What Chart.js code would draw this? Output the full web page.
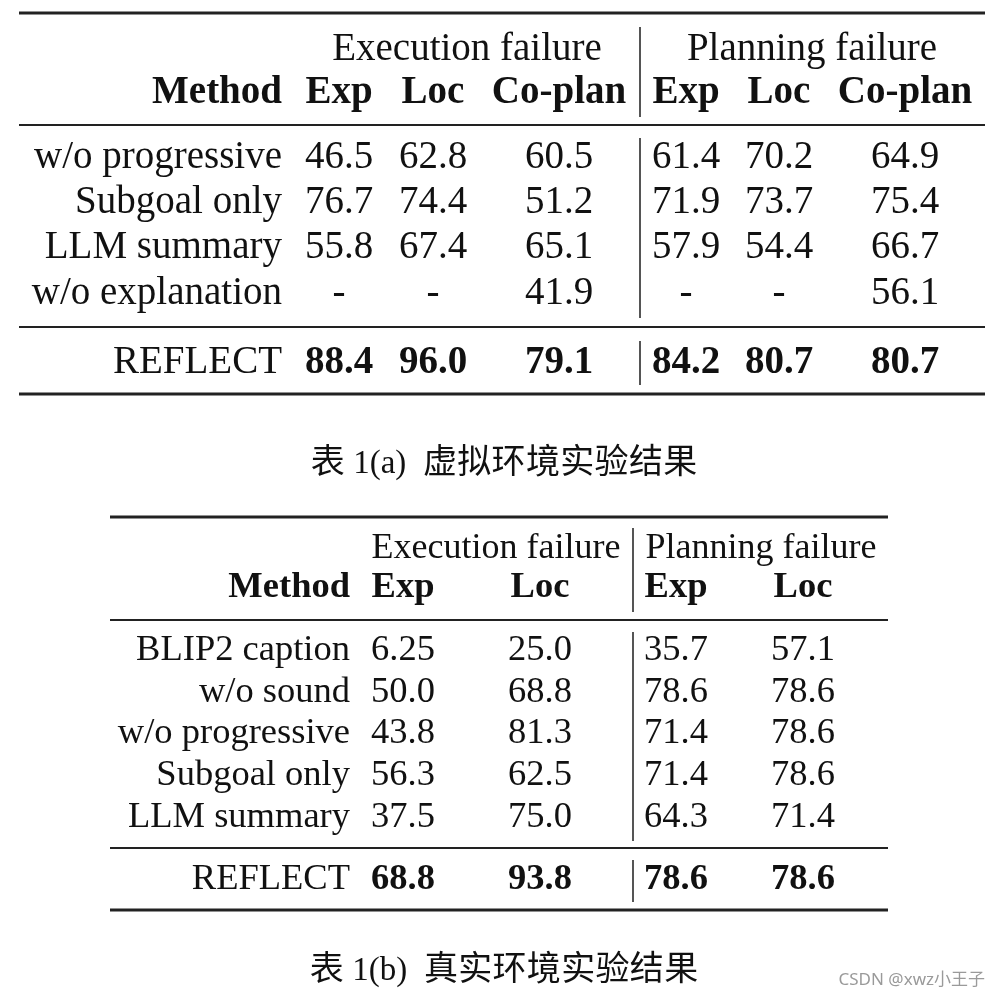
<!DOCTYPE html>
<html>
<head>
<meta charset="utf-8">
<script src="https://cdn.jsdelivr.net/npm/chart.js@4.4.1/dist/chart.umd.min.js"></script>
<style>
  html, body { margin: 0; padding: 0; background: #fff; }
  canvas { display: block; }
</style>
</head>
<body>
<canvas id="tabla" width="1000" height="998"></canvas>
<script>
// datos de la tabla (a) - entorno virtual
var metodosA = ['w/o progressive', 'Subgoal only', 'LLM summary', 'w/o explanation', 'REFLECT']
var gruposA = ['Execution failure', 'Planning failure']
var metricasA = ['Exp', 'Loc', 'Co-plan', 'Exp', 'Loc', 'Co-plan']
var aEjecExp = [46.5, 76.7, 55.8, null, 88.4]
var aEjecLoc = [62.8, 74.4, 67.4, null, 96.0]
var aEjecCoplan = [60.5, 51.2, 65.1, 41.9, 79.1]
var aPlanExp = [61.4, 71.9, 57.9, null, 84.2]
var aPlanLoc = [70.2, 73.7, 54.4, null, 80.7]
var aPlanCoplan = [64.9, 75.4, 66.7, 56.1, 80.7]
var tituloA = '表 1(a)  虚拟环境实验结果'

// datos de la tabla (b) - entorno real
var metodosB = ['BLIP2 caption', 'w/o sound', 'w/o progressive', 'Subgoal only', 'LLM summary', 'REFLECT']
var gruposB = ['Execution failure', 'Planning failure']
var metricasB = ['Exp', 'Loc', 'Exp', 'Loc']
var bEjecExp = [6.25, 50.0, 43.8, 56.3, 37.5, 68.8]
var bEjecLoc = [25.0, 68.8, 81.3, 62.5, 75.0, 93.8]
var bPlanExp = [35.7, 78.6, 71.4, 71.4, 64.3, 78.6]
var bPlanLoc = [57.1, 78.6, 78.6, 78.6, 71.4, 78.6]
var tituloB = '表 1(b)  真实环境实验结果'

var marcaAgua = 'CSDN @xwz小王子'

// posiciones (unidades de la escala)
var colA = [282, 339, 433, 559, 686, 779, 905]
var filasA = [168, 213, 258, 304, 373]
var grupoXA = [467, 812]
var colB = [350, 403, 540, 676, 803]
var filasB = [660, 702, 743, 785, 827, 889]
var grupoXB = [496, 761]

var serif = "'Liberation Serif', 'Times New Roman', serif"
var cjk = "'Noto Sans CJK SC', sans-serif"
var negro = '#111'

function formato(v) {
    if (v === null) return '-'
    return Number.isInteger(Math.round(v * 100) / 10) ? v.toFixed(1) : String(v)
}

function celdas(textos, xs, ys, tam, align, ultimoNegrita) {
    return {
        data: textos.map((t, i) => ({ x: Array.isArray(xs) ? xs[i] : xs, y: Array.isArray(ys) ? ys[i] : ys })),
        textos: textos,
        tam: tam,
        align: align,
        negrita: textos.map((t, i) => ultimoNegrita === 'todo' || (ultimoNegrita && i === textos.length - 1)),
        pointRadius: 0,
        showLine: false
    }
}

var datasets = []
// tabla a
datasets.push(celdas(gruposA, grupoXA, 60, 39, 'center', false))
datasets.push(celdas(['Method'].concat(metricasA), colA, 103, 39, null, 'todo'))
datasets[datasets.length - 1].align = ['right', 'center', 'center', 'center', 'center', 'center', 'center']
datasets.push(celdas(metodosA, colA[0], filasA, 39, 'right', false))
var columnasA = [aEjecExp, aEjecLoc, aEjecCoplan, aPlanExp, aPlanLoc, aPlanCoplan]
columnasA.forEach((col, c) => {
    datasets.push(celdas(col.map(formato), colA[c + 1], filasA, 39, 'center', true))
})
var capA = celdas([tituloA], 504, 473, 33, 'center', false)
capA.mixto = true
datasets.push(capA)
// tabla b
datasets.push(celdas(gruposB, grupoXB, 558, 36, 'center', false))
datasets.push(celdas(['Method'].concat(metricasB), colB, 597, 36.5, null, 'todo'))
datasets[datasets.length - 1].align = ['right', 'center', 'center', 'center', 'center']
datasets.push(celdas(metodosB, colB[0], filasB, 36.5, 'right', false))
var columnasB = [bEjecExp, bEjecLoc, bPlanExp, bPlanLoc]
columnasB.forEach((col, c) => {
    datasets.push(celdas(col.map(formato), colB[c + 1], filasB, 36.5, 'center', true))
})
var capB = celdas([tituloB], 504, 980, 33, 'center', false)
capB.mixto = true
datasets.push(capB)
var marca = celdas([marcaAgua], 985, 985, 17, 'right', false)
marca.fuente = "'Noto Sans', 'Noto Sans CJK SC', sans-serif"
marca.color = '#9a9a9a'
datasets.push(marca)

// reglas horizontales [y, x0, x1, grosor] y verticales [x, y0, y1]
var reglasH = [
    [13, 19, 985, 3], [125, 19, 985, 2], [327, 19, 985, 2], [394, 19, 985, 3],
    [517, 110, 888, 3], [620, 110, 888, 2], [848, 110, 888, 2], [910, 110, 888, 3]
]
var reglasV = [
    [640, 27, 117], [640, 138, 318], [640, 341, 385],
    [633, 528, 612], [633, 632, 841], [633, 860, 902]
]

// texto mixto: latin en serif, chino con paso fijo
function esCJK(ch) { return /[\u3400-\u9fff]/.test(ch) }
function dibujarMixto(ctx, texto, x, y, tam) {
    let paso = tam * 1.04
    let partes = []
    let total = 0
    for (let ch of texto) {
        let w
        if (esCJK(ch)) {
            w = paso
        } else {
            ctx.font = tam + 'px ' + serif
            w = ctx.measureText(ch).width
        }
        partes.push([ch, w])
        total += w
    }
    let cx = x - total / 2
    ctx.textAlign = 'center'
    partes.forEach(p => {
        if (esCJK(p[0])) {
            ctx.font = Math.round(tam * 1.03) + 'px ' + cjk
        } else {
            ctx.font = tam + 'px ' + serif
        }
        ctx.fillText(p[0], cx + p[1] / 2, y)
        cx += p[1]
    })
}

var pluginTabla = {
    id: 'tabla',
    beforeDatasetsDraw(chart) {
        let ctx = chart.ctx
        let sx = chart.scales.x
        let sy = chart.scales.y
        ctx.save()
        ctx.strokeStyle = '#222'
        reglasH.forEach(r => {
            ctx.lineWidth = r[3]
            let y = sy.getPixelForValue(r[0])
            ctx.beginPath()
            ctx.moveTo(sx.getPixelForValue(r[1]), y)
            ctx.lineTo(sx.getPixelForValue(r[2]), y)
            ctx.stroke()
        })
        ctx.strokeStyle = '#555'
        ctx.lineWidth = 2
        reglasV.forEach(r => {
            let x = sx.getPixelForValue(r[0])
            ctx.beginPath()
            ctx.moveTo(x, sy.getPixelForValue(r[1]))
            ctx.lineTo(x, sy.getPixelForValue(r[2]))
            ctx.stroke()
        })
        ctx.restore()
    },
    afterDatasetsDraw(chart) {
        let ctx = chart.ctx
        ctx.save()
        ctx.textBaseline = 'alphabetic'
        chart.data.datasets.forEach((ds, i) => {
            let meta = chart.getDatasetMeta(i)
            meta.data.forEach((pt, j) => {
                ctx.fillStyle = ds.color || negro
                if (ds.mixto) {
                    dibujarMixto(ctx, ds.textos[j], pt.x, pt.y, ds.tam)
                    return
                }
                let peso = ds.negrita[j] ? 'bold ' : ''
                ctx.font = peso + ds.tam + 'px ' + (ds.fuente || serif)
                ctx.textAlign = Array.isArray(ds.align) ? ds.align[j] : ds.align
                ctx.fillText(ds.textos[j], pt.x, pt.y)
            })
        })
        ctx.restore()
    }
}

var ctx = document.getElementById('tabla')
var miTabla = new Chart(ctx, {
    type: 'scatter',
    data: { datasets: datasets },
    options: {
        responsive: false,
        animation: false,
        events: [],
        layout: { padding: 0 },
        plugins: { legend: { display: false }, tooltip: { enabled: false } },
        scales: {
            x: { type: 'linear', min: 0, max: 1000, display: false },
            y: { type: 'linear', min: 0, max: 998, reverse: true, display: false }
        }
    },
    plugins: [pluginTabla]
})
</script>
</body>
</html>
